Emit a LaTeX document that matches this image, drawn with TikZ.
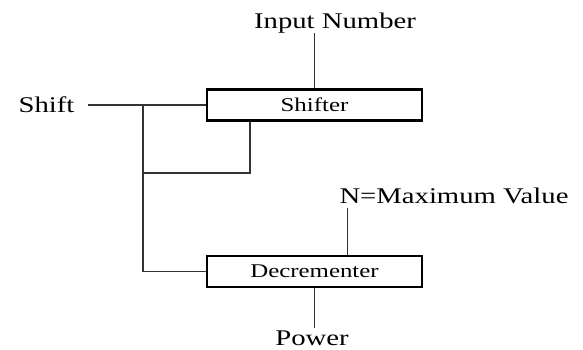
\documentclass[tikz,border=0pt]{standalone}
\usepackage{fontspec}
\setmainfont{Liberation Serif}[FakeStretch=1.28]
\begin{document}
\begin{tikzpicture}[
		x=1bp, y=-1bp,
		block/.style={rectangle, draw=black, line width=2.2bp, minimum width=215bp, minimum height=31bp, inner sep=0pt, font=\fontsize{19.5}{21}\selectfont},
		label/.style={inner sep=0pt, anchor=base, font=\fontsize{22.5}{24}\selectfont},
		wire/.style={draw=black!80, line width=1.3bp}
		]
		\useasboundingbox (0,0) rectangle (583,349);
		% blocks
		\node[block] (shifter) at (314.5,105) {Shifter};
		\node[block] (decr) at (314.5,271.5) {Decrementer};
		% outside signals
		\node[label] (input) at (335,28) {Input Number};
		\node[label] (shift) at (46.5,112) {Shift};
		\node[label] (maxv) at (454,203) {N=Maximum Value};
		\node[label] (power) at (312,345.5) {Power};
		% junctions
		\coordinate (j1) at (143,106);
		\coordinate (j2) at (143,173);
		\coordinate (fb) at (250,122);
		% connections
		\draw[wire] ([xshift=13bp]shift.east |- shifter.west) -- (shifter.west);
		\draw[wire] (j1) |- (decr.west);
		\draw[wire] (fb) |- (j2);
		\draw[wire] (shifter.north |- input.south) -- (shifter.north);
		\draw[wire] ([xshift=8bp,yshift=-4bp]maxv.south west) -- ([xshift=8bp]maxv.south west |- decr.north);
		\draw[wire] (decr.south) -- ([yshift=3bp]decr.south |- power.north);
\end{tikzpicture}
\end{document}
